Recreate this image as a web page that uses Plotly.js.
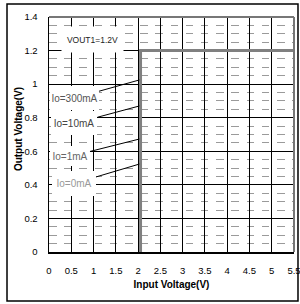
<!DOCTYPE html>
<html>
<head>
<meta charset="utf-8">
<script src="https://cdn.plot.ly/plotly-3.0.1.min.js"></script>
<style>
html,body{margin:0;padding:0;background:#fff;}
#chart{width:300px;height:304px;}
</style>
</head>
<body>
<div id="chart"></div>
<script>
// Input voltage (V) and output voltage (V) for each load current
const vinIo300 = [2.06, 2.06, 2.5, 3.0, 3.5, 4.0, 4.5, 5.0, 5.5];
const voutIo300 = [0, 1.2, 1.2, 1.2, 1.2, 1.2, 1.2, 1.2, 1.2];
const vinIo10 = [2.06, 2.06, 2.5, 3.0, 3.5, 4.0, 4.5, 5.0, 5.5];
const voutIo10 = [0, 1.2, 1.2, 1.2, 1.2, 1.2, 1.2, 1.2, 1.2];
const vinIo1 = [2.06, 2.06, 2.5, 3.0, 3.5, 4.0, 4.5, 5.0, 5.5];
const voutIo1 = [0, 1.2, 1.2, 1.2, 1.2, 1.2, 1.2, 1.2, 1.2];
const vinIo0 = [2.06, 2.06, 2.5, 3.0, 3.5, 4.0, 4.5, 5.0, 5.5];
const voutIo0 = [0, 1.2, 1.2, 1.2, 1.2, 1.2, 1.2, 1.2, 1.2];

const seriesNames = ['Io=300mA', 'Io=10mA', 'Io=1mA', 'Io=0mA'];
const xTickVals = [0, 0.5, 1, 1.5, 2, 2.5, 3, 3.5, 4, 4.5, 5, 5.5];
const xTickText = ['0', '0.5', '1', '1.5', '2', '2.5', '3', '3.5', '4', '4.5', '5', '5.5'];
const yTickVals = [0, 0.2, 0.4, 0.6, 0.8, 1.0, 1.2, 1.4];
const yTickText = ['0', '0.2', '0.4', '0.6', '0.8', '1', '1.2', '1.4'];

const FONT = 'Arial, "Liberation Sans", sans-serif';
const lineStyle = {color: '#808080', width: 2.5};

const xs = [vinIo300, vinIo10, vinIo1, vinIo0];
const ys = [voutIo300, voutIo10, voutIo1, voutIo0];
const traces = seriesNames.map((n, i) => ({
  type: 'scatter', mode: 'lines', name: n,
  x: xs[i], y: ys[i], line: lineStyle, hoverinfo: 'skip'
}));

const lbl = (text, x, y, ax, ay, w, h, color) => ({
  text: text, xref: 'x', yref: 'y', axref: 'x', ayref: 'y',
  x: x, y: y, ax: ax, ay: ay, showarrow: true, arrowhead: 0,
  arrowwidth: 1, arrowcolor: '#000', standoff: 0, startstandoff: 0,
  bgcolor: '#fff', borderpad: 0, borderwidth: 0, width: w, height: h,
  font: {family: FONT, size: 10, color: color}
});

const tickFont = {family: FONT, size: 9.5, color: '#000'};

const layout = {
  width: 300, height: 304,
  margin: {l: 49, r: 6, t: 17, b: 52},
  paper_bgcolor: '#fff', plot_bgcolor: '#fff',
  showlegend: false,
  font: {family: FONT, size: 10, color: '#000'},
  xaxis: {
    range: [0, 5.5], tickmode: 'array', tickvals: xTickVals, ticktext: xTickText,
    showgrid: true, gridcolor: '#000', gridwidth: 1,
    showline: true, linecolor: '#000', linewidth: 1.5,
    ticks: '', ticklabelstandoff: 9, zeroline: false, ticklabeloverflow: 'allow',
    tickfont: tickFont,
    title: {text: 'Input Voltage(V)', font: {family: FONT, size: 10, color: '#000', weight: 'bold'}, standoff: 6}
  },
  yaxis: {
    range: [0, 1.4], tickmode: 'array', tickvals: yTickVals, ticktext: yTickText,
    showgrid: true, gridcolor: '#000', gridwidth: 1,
    minor: {dtick: 0.05, tick0: 0, showgrid: true, gridcolor: '#9a9a9a', gridwidth: 1, griddash: '7.5px,7.7px', ticks: ''},
    showline: true, linecolor: '#000', linewidth: 1.5,
    ticks: '', ticklabelstandoff: 8, zeroline: false, ticklabeloverflow: 'allow',
    tickfont: tickFont
  },
  shapes: [
    {type: 'line', xref: 'paper', yref: 'paper', x0: 0, x1: 1, y0: 1, y1: 1, line: {color: '#777', width: 2}},
    {type: 'line', xref: 'paper', yref: 'paper', x0: 1, x1: 1, y0: 0, y1: 1, line: {color: '#777', width: 2}},
    {type: 'rect', xref: 'paper', yref: 'paper', x0: -0.1714, x1: 1.0163, y0: -0.2085, y1: 1.055,
     line: {color: '#000', width: 1.5}, fillcolor: 'rgba(0,0,0,0)'}
  ],
  annotations: [
    {text: 'Output Voltage(V)', xref: 'paper', yref: 'paper', x: 0, y: 0.523,
     xanchor: 'center', yanchor: 'middle', xshift: -31, textangle: -90, showarrow: false,
     font: {family: FONT, size: 10, color: '#000', weight: 'bold'}},
    {text: 'VOUT1=1.2V', xref: 'x', yref: 'y', x: 0.97, y: 1.266, showarrow: false,
     bgcolor: '#fff', borderpad: 0, width: 61, height: 25,
     font: {family: FONT, size: 8.5, color: '#222'}},
    lbl('Io=300mA', 2.03, 1.025, 0.572, 0.917, 49, 24, '#555'),
    lbl('Io=10mA', 2.03, 0.870, 0.572, 0.766, 46, 24, '#444'),
    lbl('Io=1mA', 2.03, 0.673, 0.471, 0.569, 40, 20, '#666'),
    lbl('Io=0mA', 2.03, 0.524, 0.561, 0.408, 44, 25, '#999')
  ]
};

Plotly.newPlot('chart', traces, layout, {displayModeBar: false, staticPlot: true});
</script>
</body>
</html>
